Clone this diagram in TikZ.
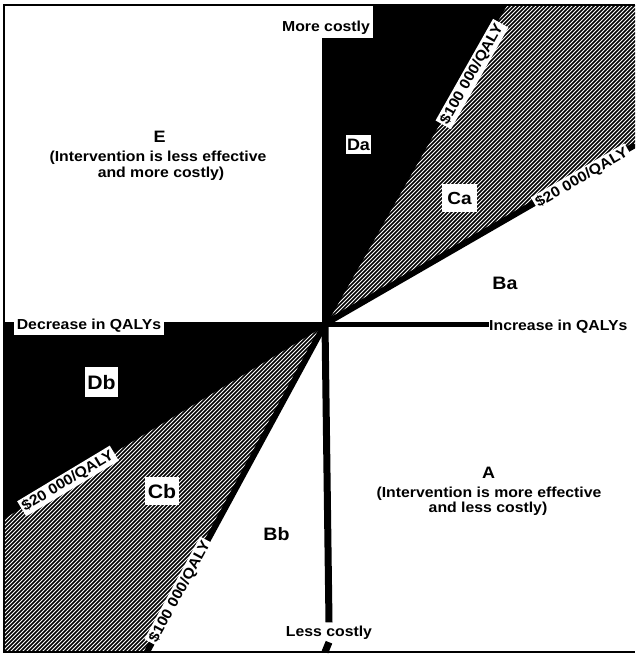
\documentclass[tikz,border=0pt]{standalone}
\usepackage{fontspec}
\setmainfont[FakeStretch=1.09]{Liberation Sans}
\usetikzlibrary{calc}
\begin{document}
\begin{tikzpicture}[x=1pt,y=-1pt,
  txt/.style={font=\fontsize{14.5}{16}\selectfont\bfseries, inner sep=0pt},
  tag/.style={txt, fill=white, inner xsep=3pt, inner ysep=3pt},
  big/.style={font=\fontsize{#1}{#1}\selectfont\bfseries},
  hatchline/.style={line width=1.75pt},
  ray/.style={line width=6pt},
  thinray/.style={line width=3pt},
  frameline/.style={line width=1.4pt},
]
\fill[white] (0,0) rectangle (635,656);
\useasboundingbox (0,0) rectangle (635,656);

% origin, cost-effectiveness thresholds and frame corners
\coordinate (O) at (325,324);
\coordinate (U100) at (505.5,5);
\coordinate (U20) at (635,145);
\coordinate (L20) at (4,517);
\coordinate (L100) at (147,652);
\coordinate (TL) at (4,5);
\coordinate (TR) at (635,5);
\coordinate (BL) at (4,652);
\coordinate (BR) at (635,652);

\begin{scope}
  \clip (TL) rectangle (BR);
  % solid wedges D
  \fill (322,324) -- (322,5) -- (U100) -- (O) -- cycle;
  \fill (325,322) -- (4,322) -- (L20) -- (O) -- cycle;
  % hatched wedges C
  \begin{scope}
    \clip (O) -- (U100) -- (TR) -- (U20) -- cycle;
    \foreach \i in {-700,-696,...,700}
      \draw[hatchline] (\i,660) -- ++(660,-660);
  \end{scope}
  \begin{scope}
    \clip (O) -- (L20) -- (BL) -- (L100) -- cycle;
    \foreach \i in {-700,-696,...,700}
      \draw[hatchline] (\i,660) -- ++(660,-660);
  \end{scope}
  % threshold rays
  \draw[ray] (O) -- (U20);
  \draw[ray] (O) -- (L100);
  \draw[thinray] (O) -- (U100);
  \draw[thinray] (O) -- (L20);
\end{scope}

% axis labels
\node[tag, anchor=base] (more) at (326,31.5) {More costly};
\fill[white] (more.north west) rectangle (more.north east |- TL);
\node[tag, anchor=base] (decr) at (89,329) {Decrease in QALYs};
\node[txt, anchor=base west] (incr) at (489,330) {Increase in QALYs};
\node[tag, anchor=base] (less) at (329,636) {Less costly};

% axes
\draw[line width=5pt] (O) -- (O -| incr.west);
\draw[line width=7pt] (O) -- (less.north);
\draw[line width=7pt] (less.south) -- (BL -| O);

% region labels
\node[tag, big=16.5, inner xsep=1.5pt, inner ysep=4pt, anchor=base] (da) at (358.5,150) {Da};
\node[tag, big=17.5, inner xsep=5pt, inner ysep=8pt, anchor=base] (ca) at (459.5,204) {Ca};
\node[txt, big=18, anchor=base] (ba) at (505,289) {Ba};
\node[tag, big=19.5, inner xsep=2pt, inner ysep=8pt, anchor=base] (db) at (101.5,389) {Db};
\node[tag, big=19.5, inner xsep=3pt, inner ysep=7pt, anchor=base] (cb) at (162,498) {Cb};
\node[txt, big=18, anchor=base] (bb) at (276.5,540) {Bb};

\node[txt, big=16.5, anchor=base] (e) at (159.5,142) {E};
\node[txt, anchor=base] (e1) at (158,161) {(Intervention is less effective};
\node[txt, anchor=base] (e2) at (161,177) {and more costly)};

\node[txt, big=16.5, anchor=base] (a) at (488.5,478) {A};
\node[txt, anchor=base] (a1) at (489,497) {(Intervention is more effective};
\node[txt, anchor=base] (a2) at (488,512) {and less costly)};

% threshold labels
\node[tag, inner sep=2pt, rotate=60.5] (m100u) at (472,74) {\$100 000/QALY};
\node[tag, inner sep=2pt, rotate=30] (m20u) at (582,178) {\$20 000/QALY};
\node[tag, inner sep=2pt, rotate=31] (m20l) at (68,481) {\$20 000/QALY};
\node[tag, inner sep=2pt, rotate=61.5] (m100l) at (180,592) {\$100 000/QALY};

% frame
\draw[frameline] (TR) -- (TL) -- (BL) -- (BR);
\end{tikzpicture}
\end{document}
